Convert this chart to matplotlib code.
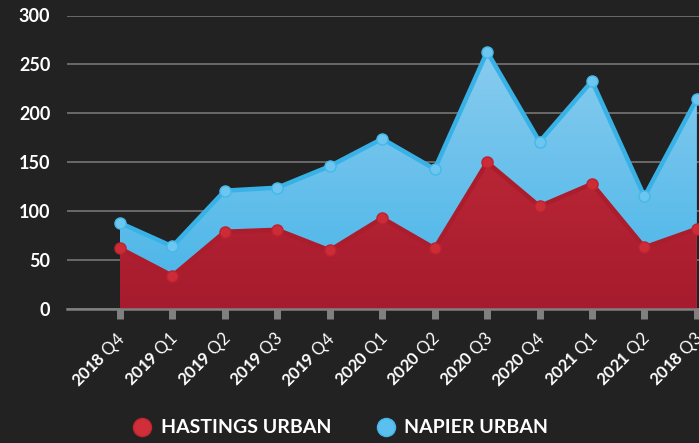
import numpy as np
import matplotlib
matplotlib.use("Agg")
import matplotlib.pyplot as plt
import matplotlib.transforms as mtransforms
from matplotlib.colors import LinearSegmentedColormap
from matplotlib.patches import Polygon
from matplotlib.lines import Line2D

quarters = ["2018 Q4", "2019 Q1", "2019 Q2", "2019 Q3", "2019 Q4", "2020 Q1",
            "2020 Q2", "2020 Q3", "2020 Q4", "2021 Q1", "2021 Q2", "2018 Q3"]
hastings = [62, 34, 79, 81, 60, 93, 62, 150, 105, 128, 63, 82]
napier = [88, 64, 121, 124, 146, 174, 143, 263, 171, 233, 115, 215]
yticks = [0, 50, 100, 150, 200, 250, 300]
series_names = ["HASTINGS URBAN", "NAPIER URBAN"]

BG = "#222222"
plt.rcParams["font.family"] = ["Lato", "DejaVu Sans"]
plt.rcParams["mathtext.fontset"] = "custom"
plt.rcParams["mathtext.bf"] = "Lato:bold"
plt.rcParams["mathtext.rm"] = "Lato"

fig = plt.figure(figsize=(6.99, 4.43), dpi=100, facecolor=BG)
ax = fig.add_axes([67/699, 1-309/443, 632/699, (309-15.5)/443])
ax.set_facecolor(BG)

x = np.arange(len(quarters))


def gradient_area(xv, yv, c_top, c_bot, z):
    verts = np.vstack([[xv[0], 0], np.column_stack([xv, yv]), [xv[-1], 0]])
    poly = Polygon(verts, closed=True, facecolor="none", edgecolor="none",
                   transform=ax.transData)
    ax.add_patch(poly)
    cmap = LinearSegmentedColormap.from_list("g", [c_bot, c_top])
    img = np.linspace(0, 1, 256).reshape(-1, 1)
    im = ax.imshow(img, cmap=cmap, aspect="auto", origin="lower",
                   extent=[xv[0], xv[-1], 0, 300], zorder=z)
    im.set_clip_path(poly)


gradient_area(x, napier, "#93cff0", "#45b4e8", 2)
ax.plot(x, napier, color="#38b2e6", lw=3.2, zorder=3, solid_joinstyle="round",
        marker="o", ms=8, mfc="#6cc6f0", mec="#45b8ea", mew=1.0)
gradient_area(x, hastings, "#cb323c", "#a61b2e", 4)
ax.plot(x, hastings, color="#ab1c2c", lw=3.2, zorder=5, solid_joinstyle="round",
        marker="o", ms=8, mfc="#cd2c37", mec="#bb2331", mew=1.0)

ax.set_xlim(-1.01, 11.04)
ax.set_ylim(0, 300)
ax.set_yticks(yticks)
ax.set_yticklabels([str(v) for v in yticks], color="white", fontsize=13,
                   fontweight="bold")
ax.tick_params(axis="y", length=0, pad=12)
ax.grid(axis="y", color="#767676", lw=1.2, zorder=1)
ax.set_axisbelow(True)

ax.set_xticks(x)
labels = []
for q in quarters:
    yr, qq = q.split(" ")
    labels.append(r"$\mathbf{" + yr + r"}$ " + qq)
ax.set_xticklabels(labels, rotation=45, ha="right", va="center",
                   rotation_mode="anchor", color="white", fontsize=12,
                   fontweight="normal")
ax.tick_params(axis="x", length=7.5, width=5, color="#808080", pad=12)
offset = mtransforms.ScaledTranslation(3/100, 0, fig.dpi_scale_trans)
for lab in ax.get_xticklabels():
    lab.set_transform(lab.get_transform() + offset)

for s in ["top", "right", "left"]:
    ax.spines[s].set_visible(False)
ax.spines["bottom"].set_color("#808080")
ax.spines["bottom"].set_linewidth(1.8)
ax.spines["bottom"].set_zorder(6)

handles = [Line2D([], [], ls="", marker="o", ms=13, mfc="#d02e38", mec="#c02532"),
           Line2D([], [], ls="", marker="o", ms=13, mfc="#5bc0ef", mec="#45b4e8")]
fig.legend(handles, series_names, loc="center", bbox_to_anchor=(0.487, 0.034),
           ncol=2, frameon=False, handlelength=1.0, handletextpad=0.45,
           columnspacing=2.3,
           prop={"family": "Lato", "weight": "bold", "size": 14},
           labelcolor="white")

fig.savefig("out.png", dpi=100, facecolor=BG)
